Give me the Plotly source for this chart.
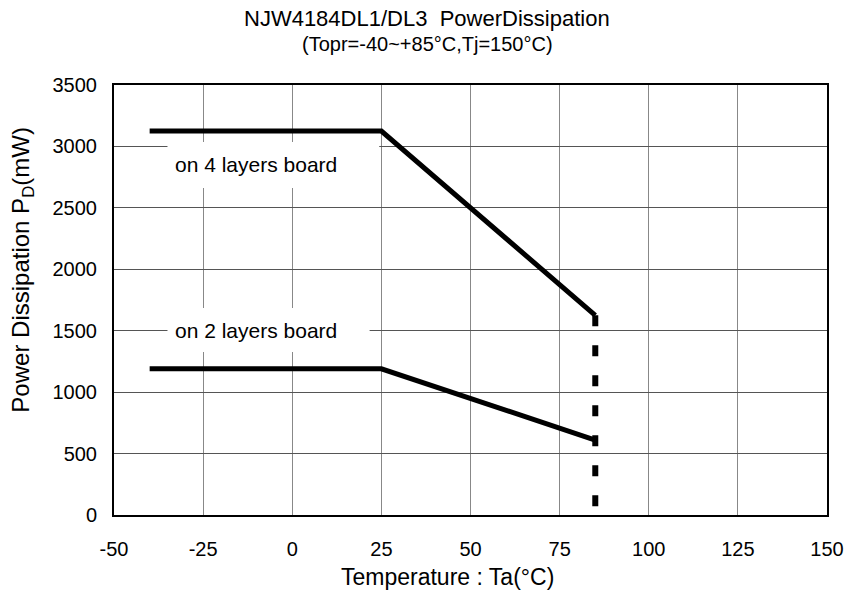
import plotly.graph_objects as go

# Data
ta_4layer = [-40, 25, 85]
pd_4layer = [3125, 3125, 1625]
ta_2layer = [-40, 25, 85]
pd_2layer = [1190, 1190, 610]
ta_limit = [85, 85]
pd_limit = [1625, 0]
x_ticks = [-50, -25, 0, 25, 50, 75, 100, 125, 150]
y_ticks = [0, 500, 1000, 1500, 2000, 2500, 3000, 3500]
label_4 = "on 4 layers board"
label_2 = "on 2 layers board"

FONT = "Liberation Sans, Arial, sans-serif"

fig = go.Figure()
fig.add_trace(go.Scatter(x=ta_4layer, y=pd_4layer, mode="lines",
                         line=dict(color="black", width=5), showlegend=False))
fig.add_trace(go.Scatter(x=ta_2layer, y=pd_2layer, mode="lines",
                         line=dict(color="black", width=5), showlegend=False))
fig.add_trace(go.Scatter(x=ta_limit, y=pd_limit, mode="lines",
                         line=dict(color="black", width=6, dash="11px,19px"),
                         showlegend=False))

# white label boxes hiding the grid
fig.add_shape(type="rect", x0=-35, x1=24.4, y0=2662, y1=3036, xref="x", yref="y",
              fillcolor="white", line=dict(width=0), layer="between")
fig.add_shape(type="rect", x0=-35, x1=21.7, y0=1327, y1=1685, xref="x", yref="y",
              fillcolor="white", line=dict(width=0), layer="between")

fig.add_annotation(x=-10.1, y=2857, xref="x", yref="y", text=label_4, showarrow=False,
                   xanchor="center", yanchor="middle",
                   font=dict(family=FONT, size=21, color="black"))
fig.add_annotation(x=-10.1, y=1498, xref="x", yref="y", text=label_2, showarrow=False,
                   xanchor="center", yanchor="middle",
                   font=dict(family=FONT, size=21, color="black"))

# titles (positions relative to the plot area)
fig.add_annotation(x=0.439, y=1.1558, xref="paper", yref="paper",
                   xanchor="center", yanchor="middle",
                   text="NJW4184DL1/DL3  PowerDissipation", showarrow=False,
                   font=dict(family=FONT, size=22, color="black"))
fig.add_annotation(x=0.439, y=1.0953, xref="paper", yref="paper",
                   xanchor="center", yanchor="middle",
                   text="(Topr=-40~+85°C,Tj=150°C)", showarrow=False,
                   font=dict(family=FONT, size=20, color="black"))
fig.add_annotation(x=0.468, y=-0.144, xref="paper", yref="paper",
                   xanchor="center", yanchor="middle",
                   text="Temperature : Ta(°C)", showarrow=False,
                   font=dict(family=FONT, size=23, color="black"))
fig.add_annotation(x=-0.128, y=0.570, xref="paper", yref="paper", textangle=-90,
                   xanchor="center", yanchor="middle",
                   text="Power Dissipation P<sub>D</sub>(mW)", showarrow=False,
                   font=dict(family=FONT, size=24, color="black"))

fig.update_xaxes(range=[-50, 150], tickvals=x_ticks, ticktext=[str(v) for v in x_ticks],
                 showgrid=True, gridcolor="#888888", gridwidth=1,
                 showline=True, mirror=True, linecolor="black", linewidth=2,
                 ticks="", zeroline=False, ticklabelstandoff=15,
                 ticklabeloverflow="allow", automargin=False,
                 tickfont=dict(family=FONT, size=20, color="black"))
fig.update_yaxes(range=[0, 3500], tickvals=y_ticks, ticktext=[str(v) for v in y_ticks],
                 showgrid=True, gridcolor="#555555", gridwidth=1,
                 showline=True, mirror=True, linecolor="black", linewidth=2,
                 ticks="", zeroline=False, ticklabelstandoff=11,
                 ticklabeloverflow="allow", automargin=False,
                 tickfont=dict(family=FONT, size=20, color="black"))

fig.update_layout(width=849, height=597, margin=dict(l=114, r=22, t=85, b=82),
                  plot_bgcolor="white", paper_bgcolor="white",
                  font=dict(family=FONT, color="black"))

fig.write_html("out.html",
               config={"displayModeBar": False},
               post_script="document.body.style.margin='0';"
                           "document.body.style.overflow='hidden';")
